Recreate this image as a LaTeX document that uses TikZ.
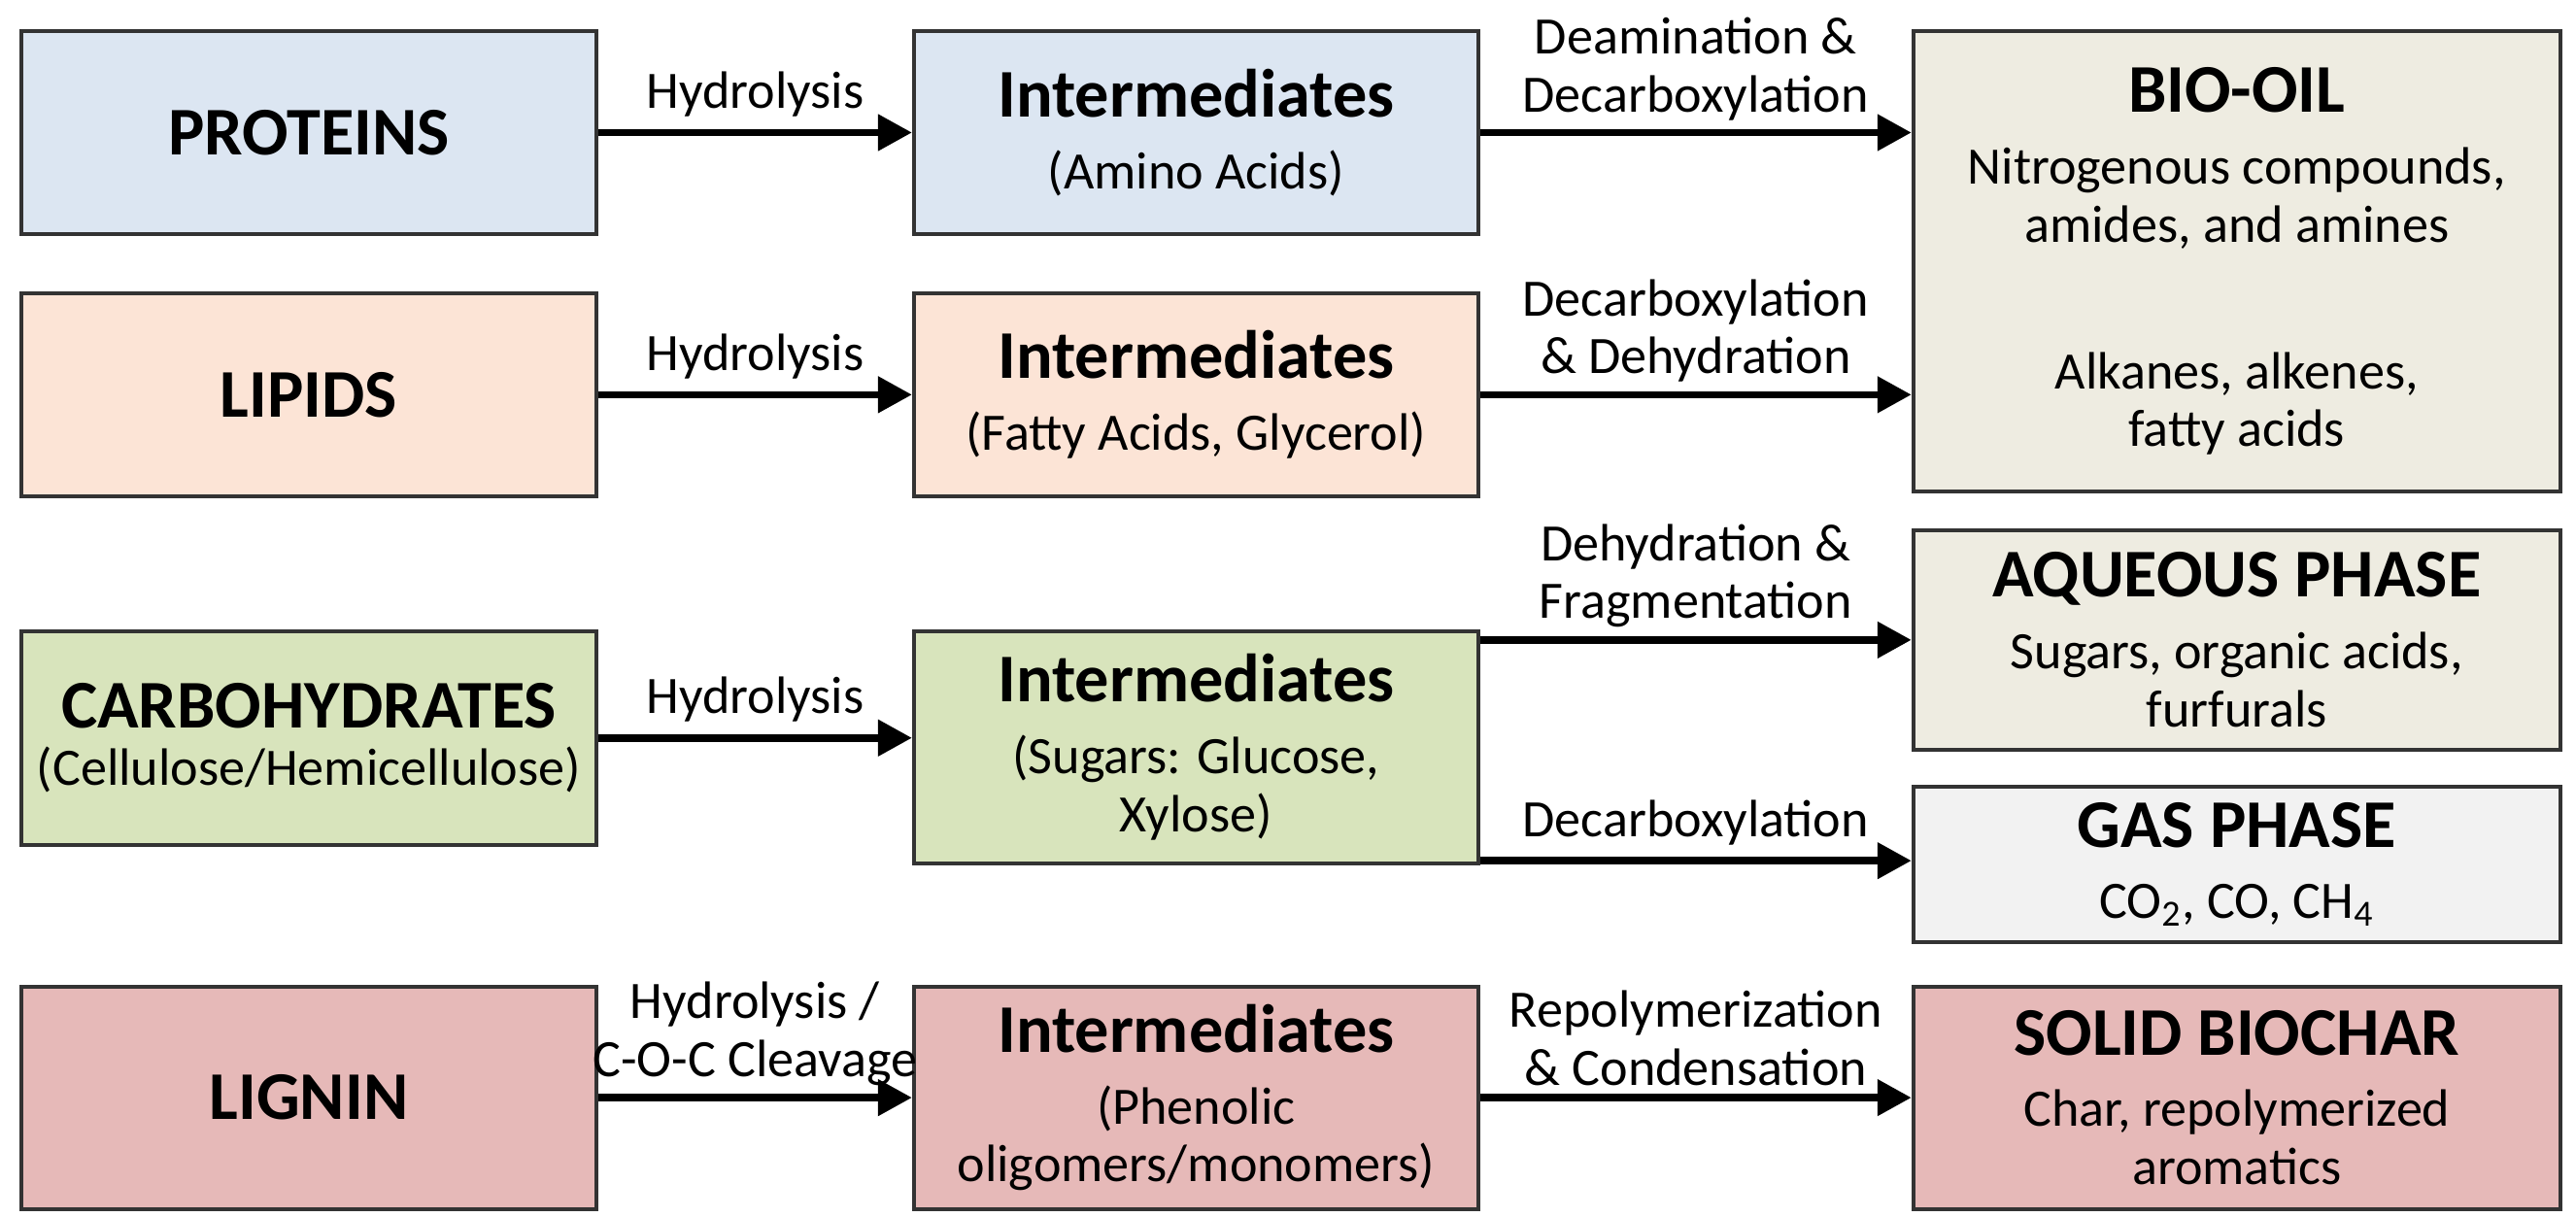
\documentclass[tikz,border=0pt]{standalone}
\usepackage{fontspec}
\setmainfont{Carlito}
\usepackage{tikz}
\usetikzlibrary{arrows.meta, positioning, calc}

\definecolor{protfill}{HTML}{DCE6F2}
\definecolor{lipfill}{HTML}{FCE4D6}
\definecolor{carbfill}{HTML}{D8E4BC}
\definecolor{ligfill}{HTML}{E6B9B8}
\definecolor{oilfill}{HTML}{EEECE1}
\definecolor{gasfill}{HTML}{F2F2F2}

\newcommand{\boxtitle}[1]{{\fontsize{20}{22}\selectfont\bfseries #1}}

\begin{document}
\begin{tikzpicture}[
    font=\fontsize{15.4}{17}\selectfont,
    node distance = 0.57cm and 3.23cm,
    box/.style = {
        rectangle, draw=black!80, line width=1.1pt,
        minimum width=5.92cm, minimum height=2.09cm,
        align=center, inner sep=2pt
    },
    mid/.style = {box, minimum width=5.81cm},
    prod/.style = {box, minimum width=6.66cm},
    arr/.style = {-{Triangle[length=3.5mm, width=3.6mm]}, line width=2.2pt, draw=black},
    lbl/.style = {midway, above=1.5pt, align=center, inner sep=2pt},
    lbltwo/.style = {lbl, above=0.5pt},
]
\useasboundingbox (0,0) rectangle (26.52,-12.53);

% Feedstocks
\node[box, fill=protfill] (prot) at (3.18,-1.365) {\boxtitle{PROTEINS}};
\node[box, fill=lipfill, below=of prot] (lip) {\boxtitle{LIPIDS}};
\node[box, fill=carbfill, minimum height=2.20cm, below=1.35cm of lip] (carb)
    {\boxtitle{CARBOHYDRATES}\\(Cellulose/Hemicellulose)};
\node[box, fill=ligfill, minimum height=2.29cm, below=1.42cm of carb] (lig)
    {\boxtitle{LIGNIN}};

% Intermediates
\node[mid, fill=protfill, right=of prot] (ami)
    {\boxtitle{Intermediates}\\[4pt](Amino Acids)};
\node[mid, fill=lipfill, right=of lip] (fat)
    {\boxtitle{Intermediates}\\[4pt](Fatty Acids, Glycerol)};
\node[mid, fill=carbfill, minimum height=2.39cm, right=of carb, yshift=-0.095cm] (sug)
    {\boxtitle{Intermediates}\\[4pt](Sugars: Glucose,\\Xylose)};
\node[mid, fill=ligfill, minimum height=2.29cm, right=of lig] (phen)
    {\boxtitle{Intermediates}\\[4pt](Phenolic\\oligomers/monomers)};

% Products
\node[prod, fill=oilfill, minimum height=4.74cm,
      right=4.44cm of ami.north east, anchor=north west] (oil)
    {\boxtitle{BIO-OIL}\\[4pt]Nitrogenous compounds,\\amides, and amines\\[26pt]
     Alkanes, alkenes,\\fatty acids};
\node[prod, fill=oilfill, minimum height=2.26cm, below=0.36cm of oil] (aq)
    {\boxtitle{AQUEOUS PHASE}\\[4pt]Sugars, organic acids,\\furfurals};
\node[prod, fill=gasfill, minimum height=1.60cm, below=0.34cm of aq] (gas)
    {\boxtitle{GAS PHASE}\\[4pt]CO\textsubscript{2}, CO, CH\textsubscript{4}};
\node[prod, fill=ligfill, minimum height=2.29cm, right=4.44cm of phen] (sol)
    {\boxtitle{SOLID BIOCHAR}\\[4pt]Char, repolymerized\\aromatics};

% Arrows
\draw[arr] (prot) -- (ami) node[lbl]{Hydrolysis};
\draw[arr] (lip) -- (fat) node[lbl]{Hydrolysis};
\draw[arr] (carb.east) -- (carb.east -| sug.west) node[lbl]{Hydrolysis};
\draw[arr] (lig) -- (phen) node[lbltwo]{Hydrolysis /\\C-O-C Cleavage};

\draw[arr] (ami.east) -- (ami.east -| oil.west)
    node[lbltwo]{Deamination \&\\Decarboxylation};
\draw[arr] (fat.east) -- (fat.east -| oil.west)
    node[lbltwo]{Decarboxylation\\\& Dehydration};
\draw[arr] (sug.east |- aq.west) -- (aq.west)
    node[lbltwo]{Dehydration \&\\Fragmentation};
\coordinate (gasin) at ([yshift=0.045cm]sug.south east);
\draw[arr] (gasin) -- (gasin -| gas.west) node[lbl]{Decarboxylation};
\draw[arr] (phen) -- (sol)
    node[lbltwo]{Repolymerization\\\& Condensation};

\end{tikzpicture}
\end{document}
